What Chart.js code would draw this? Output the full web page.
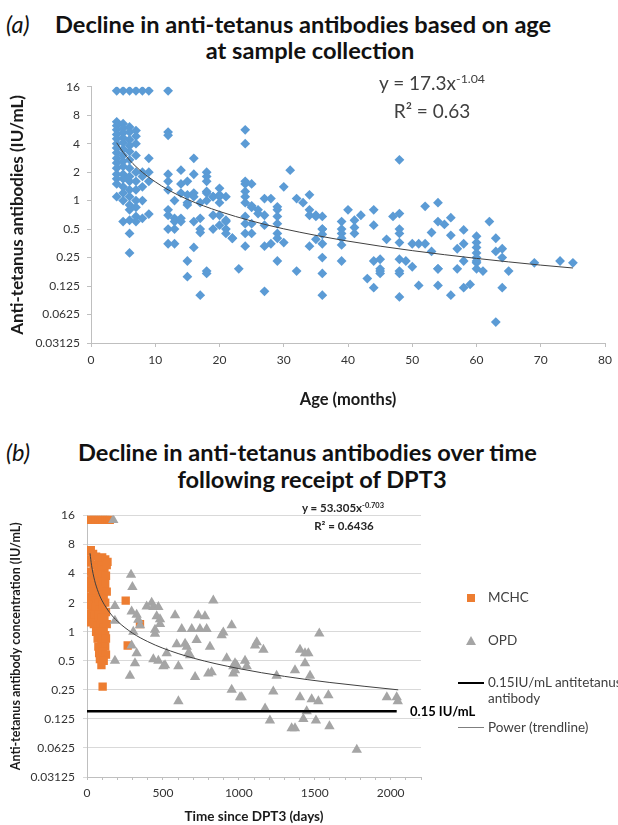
<!DOCTYPE html>
<html>
<head>
<meta charset="utf-8">
<script src="https://cdn.jsdelivr.net/npm/chart.js@4.4.1/dist/chart.umd.min.js"></script>
<style>
html,body{margin:0;padding:0;background:#fff;}
#page{position:relative;width:618px;height:825px;overflow:hidden;font-family:Lato,"Open Sans",sans-serif;color:#000;}
.t{position:absolute;white-space:nowrap;line-height:1;transform:translateY(-50%);}
.c{transform:translate(-50%,-50%);}
.ttl{font-size:23.6px;font-weight:bold;color:#111;}
.lab{font-style:italic;font-weight:normal;}
.eqA{font-size:19px;color:#404040;}
.eqB{font-size:11.5px;font-weight:bold;color:#262626;}
sup{font-size:65%;vertical-align:0;position:relative;top:-0.55em;}
.lg{font-size:13.5px;color:#404040;}
canvas{position:absolute;left:0;}
.sw{position:absolute;}
</style>
</head>
<body>
<div id="page">
  <!-- Panel (a) title -->
  <div class="t ttl lab" style="left:6px;top:25px;">(a)</div>
  <div class="t ttl" style="left:55px;top:25px;">Decline in anti-tetanus antibodies based on age</div>
  <div class="t ttl c" style="left:310px;top:51px;">at sample collection</div>
  <canvas id="cA" width="618" height="360" style="top:60px;"></canvas>
  <div class="t eqA c" style="left:432px;top:83px;">y = 17.3x<sup>-1.04</sup></div>
  <div class="t eqA c" style="left:432px;top:110px;">R² = 0.63</div>

  <!-- Panel (b) title -->
  <div class="t ttl lab" style="left:6px;top:453px;">(b)</div>
  <div class="t ttl" style="left:78px;top:453px;">Decline in anti-tetanus antibodies over time</div>
  <div class="t ttl c" style="left:312px;top:480px;">following receipt of DPT3</div>
  <canvas id="cB" width="618" height="325" style="top:500px;"></canvas>
  <div class="t eqB c" style="left:343px;top:508px;">y = 53.305x<sup>-0.703</sup></div>
  <div class="t eqB c" style="left:344px;top:526px;">R² = 0.6436</div>
  <div class="t" style="left:410px;top:711px;font-size:13px;font-weight:bold;">0.15 IU/mL</div>

  <!-- Panel (b) legend -->
  <div class="sw" style="left:466.5px;top:593.5px;width:8.5px;height:8.5px;background:#ED7D31;"></div>
  <div class="t lg" style="left:488px;top:598px;">MCHC</div>
  <div class="sw" style="left:465.5px;top:636px;width:0;height:0;border-left:5.5px solid transparent;border-right:5.5px solid transparent;border-bottom:9px solid #A5A5A5;"></div>
  <div class="t lg" style="left:488px;top:641px;">OPD</div>
  <div class="sw" style="left:458px;top:681.5px;width:26px;height:2.5px;background:#000;"></div>
  <div class="t lg" style="left:488px;top:683px;">0.15IU/mL antitetanus</div>
  <div class="t lg" style="left:488px;top:699px;">antibody</div>
  <div class="sw" style="left:458px;top:727px;width:26px;height:1px;background:#7f7f7f;"></div>
  <div class="t lg" style="left:488px;top:728px;">Power (trendline)</div>
</div>
<script>
// ---------- Panel (a): age at sample collection (months) vs antibody (IU/mL) ----------
const ageMonths = [
  4,5,6,7,8,9,12,
  4,4,4,4,4,4,4,4,4,4,4,4,4,4,4,
  5,5,5,5,5,5,5,5,5,5,5,5,5,5,5,
  6,6,6,6,6,6,6,6,6,6,6,6,6,6,6,6,
  7,7,7,7,7,7,7,7,7,7,7,
  8,8,8,8,8,
  9,9,9,9,
  12,12,12,12,12,12,12,12,12,13,13,13,13,13,
  14,14,14,14,14,15,15,15,15,15,15,16,16,16,16,16,16,
  17,17,17,17,17,18,18,18,18,18,18,18,19,19,19,19,18,
  20,20,20,20,20,20,21,21,21,21,21,22,22,23,
  24,24,24,24,24,24,24,24,24,24,24,25,25,25,25,25,26,26,
  27,27,27,27,27,28,28,29,29,29,29,29,29,29,30,30,
  31,32,32,33,34,34,34,35,34,35,35,
  36,36,36,36,36,36,36,36,39,39,39,39,39,39,
  40,41,41,41,42,43,44,44,44,44,45,45,45,45,46,
  47,48,48,48,48,48,48,48,48,48,49,50,50,
  51,51,52,52,53,53,54,54,54,54,54,55,56,56,56,
  57,57,58,58,58,58,59,60,60,60,60,60,60,60,60,
  61,62,63,63,64,64,64,63,65,69,73,75
];
const antibodyA = [
  14.5,14.5,14.5,14.5,14.5,14.5,14.5,
  6.8,6.2,5.6,5.0,4.5,4.0,3.6,3.2,2.8,2.5,2.2,1.9,1.7,1.5,1.1,
  6.5,5.8,5.2,4.6,4.1,3.5,3.0,2.6,2.3,1.9,1.7,1.4,1.2,1.0,0.6,
  6.0,5.3,4.4,3.8,3.3,2.7,2.2,1.8,1.6,1.3,1.1,0.9,0.8,0.62,0.45,0.28,
  5.5,4.8,4.0,3.0,2.0,1.6,1.3,1.0,0.85,0.68,0.6,
  2.0,1.8,1.0,0.65,1.4,
  2.8,2.0,1.6,0.72,
  5.3,4.9,1.9,1.6,1.3,0.8,0.7,0.5,0.35,0.65,0.5,0.35,1.0,0.6,
  2.1,1.5,1.2,0.65,0.6,1.6,1.15,0.95,0.9,0.23,0.157,2.8,1.9,1.2,1.1,0.6,0.32,
  0.46,0.5,0.1,0.95,0.65,2.0,1.8,1.6,1.2,1.25,0.18,0.17,1.1,1.1,0.7,0.5,1.0,
  1.15,1.1,1.35,0.95,0.7,0.55,1.1,0.5,0.6,0.62,0.45,0.4,0.4,0.19,
  5.6,4.0,1.6,1.5,1.25,1.1,0.95,0.68,0.57,0.45,0.33,1.5,0.85,0.88,0.57,0.45,0.8,0.73,
  1.05,0.7,0.55,0.33,0.11,1.05,0.35,0.8,0.68,0.57,0.45,0.4,0.23,0.86,0.36,1.4,
  2.1,1.05,0.18,0.95,1.15,0.8,0.7,0.68,0.33,0.39,0.7,
  0.68,0.5,0.5,0.44,0.35,0.25,0.17,0.1,0.6,0.5,0.45,0.4,0.34,0.23,
  0.8,0.62,0.45,0.52,0.7,0.15,0.8,0.55,0.12,0.23,0.24,0.19,0.17,0.18,0.39,
  0.68,2.7,0.73,0.5,0.45,0.36,0.24,0.18,0.17,0.096,0.23,0.2,0.35,
  0.35,0.127,0.87,0.35,0.46,0.29,0.95,0.6,0.19,0.19,0.127,0.56,0.66,0.43,0.1,
  0.31,0.19,0.49,0.35,0.12,0.23,0.13,0.36,0.32,0.28,0.25,0.22,0.19,0.42,0.23,
  0.18,0.6,0.4,0.29,0.31,0.25,0.12,0.052,0.18,0.22,0.23,0.22
];
// power trendline y = 17.3x^-1.04
const trendAgeX = [4, 5, 6, 7, 8, 10, 12, 15, 20, 25, 30, 40, 50, 60, 70, 75];
const trendAgeY = [4.09, 3.24, 2.68, 2.29, 1.99, 1.58, 1.30, 1.03, 0.768, 0.609, 0.503, 0.373, 0.296, 0.245, 0.208, 0.194];

// ---------- Panel (b): days since DPT3 vs antibody ----------
const mchcDays = [
  5,18,32,46,60,75,90,105,120,135,150,
  10,25,40,60,80,100,120,135,
  8,22,45,70,95,115,130,
  12,35,55,85,105,125,
  6,28,50,75,100,120,
  15,40,65,90,110,130,
  5,30,55,80,100,120,
  10,35,60,85,105,125,
  5,25,50,75,95,115,
  20,45,70,90,110,130,
  60,80,100,120,
  70,95,115,125,
  75,100,120,
  80,105,125,
  85,110,95,
  103,255,268,349
];
const mchcValues = [
  14.4,14.4,14.4,14.4,14.4,14.4,14.4,14.4,14.4,14.4,14.4,
  6.8,7.0,6.4,6.0,5.6,5.9,5.6,5.3,
  5.2,5.6,4.9,4.6,4.8,4.4,4.9,
  4.2,4.0,3.7,3.9,3.5,3.8,
  3.4,3.2,3.0,3.3,2.9,3.1,
  2.8,2.6,2.5,2.7,2.4,2.6,
  2.3,2.2,2.1,2.0,2.2,2.0,
  1.9,1.75,1.8,1.7,1.9,1.6,
  1.55,1.5,1.45,1.5,1.4,1.35,
  1.25,1.2,1.15,1.2,1.1,1.2,
  1.0,0.95,1.0,0.92,
  0.85,0.8,0.78,0.85,
  0.7,0.68,0.7,
  0.6,0.62,0.58,
  0.52,0.5,0.45,
  0.27,2.1,0.72,1.2
];
const opdDays = [
  173,290,299,184,184,184,294,327,338,349,305,294,327,316,283,
  393,426,437,470,459,481,448,448,481,437,470,525,514,503,602,
  591,624,602,580,646,657,668,679,690,712,733,744,722,777,788,
  799,821,810,832,887,898,953,920,964,975,953,1008,986,1041,
  1118,1107,1162,975,964,1052,1019,1249,1227,1173,1205,1348,1370,1370,
  1403,1436,1436,1458,1469,1403,1447,1425,1480,1524,1508,1530,1590,1597,
  1777,1975,2040,2047
];
const opdValues = [
  14.4,3.9,2.9,1.85,1.3,0.5,1.62,1.5,1.33,1.17,1.0,0.72,0.6,0.47,0.35,
  1.82,2.0,1.8,1.8,1.45,1.35,1.05,0.95,1.2,0.52,0.5,0.6,0.45,0.44,0.44,
  0.74,1.07,0.19,1.48,0.75,0.7,0.6,0.57,1.07,0.34,1.48,1.07,0.82,1.45,1.07,
  0.37,0.38,0.7,2.1,0.92,0.98,1.17,0.53,0.44,0.4,0.25,0.21,0.45,0.5,
  0.78,0.72,0.65,0.47,0.37,0.44,0.21,0.35,0.24,0.16,0.12,0.1,0.1,0.4,
  0.65,0.6,0.47,0.6,0.35,0.21,0.15,0.125,0.2,0.19,0.12,0.96,0.22,0.105,
  0.06,0.21,0.21,0.19
];
// power trendline y = 53.305x^-0.703
const trendDaysX = [20, 30, 50, 75, 100, 150, 200, 300, 400, 500, 700, 1000, 1300, 1600, 2050];
const trendDaysY = [6.49, 4.88, 3.41, 2.56, 2.09, 1.574, 1.286, 0.967, 0.790, 0.675, 0.533, 0.415, 0.345, 0.298, 0.250];
// protective threshold line 0.15 IU/mL
const thresholdDays = [0, 2040];
const thresholdValues = [0.15, 0.15];

// shared log2 tick values
const yTickValues = [0.03125, 0.0625, 0.125, 0.25, 0.5, 1, 2, 4, 8, 16];

const pts = (xs, ys) => xs.map((x, i) => ({x: x, y: ys[i]}));
const tickFont = {family: 'Lato', size: 12};
const tickColor = '#333333';
const axisGrey = '#bfbfbf';

Chart.defaults.font.family = 'Lato';

new Chart(document.getElementById('cA'), {
  type: 'scatter',
  data: {
    datasets: [
      {
        label: 'Power (trendline)', type: 'line', data: pts(trendAgeX, trendAgeY),
        borderColor: '#404040', borderWidth: 1, pointRadius: 0, showLine: true, fill: false,
        cubicInterpolationMode: 'monotone', order: 0
      },
      {
        label: 'Anti-tetanus antibodies', data: pts(ageMonths, antibodyA),
        pointStyle: 'rectRot', pointRadius: 4.9, backgroundColor: '#5B9BD5',
        borderColor: '#5B9BD5', borderWidth: 0, order: 1
      }
    ]
  },
  options: {
    responsive: false, animation: false, devicePixelRatio: 1,
    layout: {padding: {top: 26.7, right: 7, bottom: 0, left: 0}},
    plugins: {legend: {display: false}, tooltip: {enabled: false}},
    scales: {
      x: {
        type: 'linear', min: 0, max: 80,
        ticks: {stepSize: 10, font: tickFont, color: tickColor, padding: 6, maxRotation: 0},
        grid: {drawOnChartArea: false, tickLength: 4, color: axisGrey},
        border: {color: axisGrey},
        title: {display: true, text: 'Age (months)', color: '#1a1a1a',
                font: {family: 'Lato', size: 16.5, weight: 'bold'}, padding: {top: 0, bottom: 10}},
        afterFit: s => { s.height = 77; }
      },
      y: {
        type: 'logarithmic', min: 0.03125, max: 16,
        afterBuildTicks: s => { s.ticks = yTickValues.map(v => ({value: v})); },
        ticks: {font: tickFont, color: tickColor, padding: 7, callback: v => String(v)},
        grid: {drawOnChartArea: false, tickLength: 4, color: axisGrey},
        border: {color: axisGrey},
        title: {display: true, text: 'Anti-tetanus antibodies (IU/mL)', color: '#1a1a1a',
                font: {family: 'Lato', size: 17, weight: 'bold'}, padding: {top: 7, bottom: 0}},
        afterFit: s => { s.width = 91; }
      }
    }
  }
});

new Chart(document.getElementById('cB'), {
  type: 'scatter',
  data: {
    datasets: [
      {
        label: '0.15IU/mL antitetanus antibody', type: 'line', data: pts(thresholdDays, thresholdValues),
        borderColor: '#000000', borderWidth: 2.5, pointRadius: 0, showLine: true, fill: false, order: 0
      },
      {
        label: 'Power (trendline)', type: 'line', data: pts(trendDaysX, trendDaysY),
        borderColor: '#404040', borderWidth: 1, pointRadius: 0, showLine: true, fill: false,
        cubicInterpolationMode: 'monotone', order: 1
      },
      {
        label: 'OPD', data: pts(opdDays, opdValues),
        pointStyle: 'triangle', pointRadius: 6, backgroundColor: '#A5A5A5',
        borderColor: '#A5A5A5', borderWidth: 0, order: 2
      },
      {
        label: 'MCHC', data: pts(mchcDays, mchcValues),
        pointStyle: 'rect', pointRadius: 5.9, backgroundColor: '#ED7D31',
        borderColor: '#ED7D31', borderWidth: 0, order: 3
      }
    ]
  },
  options: {
    responsive: false, animation: false, devicePixelRatio: 1,
    layout: {padding: {top: 15.5, right: 197, bottom: 0, left: 0}},
    plugins: {legend: {display: false}, tooltip: {enabled: false}},
    scales: {
      x: {
        type: 'linear', min: 0, max: 2200,
        ticks: {stepSize: 100, autoSkip: false, maxRotation: 0, font: tickFont, color: tickColor, padding: 6,
                callback: v => (v % 500 === 0 ? String(v) : '')},
        grid: {drawOnChartArea: false, tickLength: 3, color: axisGrey},
        border: {color: axisGrey},
        title: {display: true, text: 'Time since DPT3 (days)', color: '#1a1a1a',
                font: {family: 'Lato', size: 13.5, weight: 'bold'}, padding: {top: 0, bottom: 0}},
        afterFit: s => { s.height = 48; }
      },
      y: {
        type: 'logarithmic', min: 0.03125, max: 16,
        afterBuildTicks: s => { s.ticks = yTickValues.map(v => ({value: v})); },
        ticks: {font: tickFont, color: tickColor, padding: 8, callback: v => String(v)},
        grid: {color: '#d9d9d9', tickLength: 4},
        border: {color: axisGrey},
        title: {display: true, text: 'Anti-tetanus antibody concentration (IU/mL)', color: '#1a1a1a',
                font: {family: 'Lato', size: 12.5, weight: 'bold'}, padding: {top: 8, bottom: 0}},
        afterFit: s => { s.width = 87; }
      }
    }
  }
});
</script>
</body>
</html>
